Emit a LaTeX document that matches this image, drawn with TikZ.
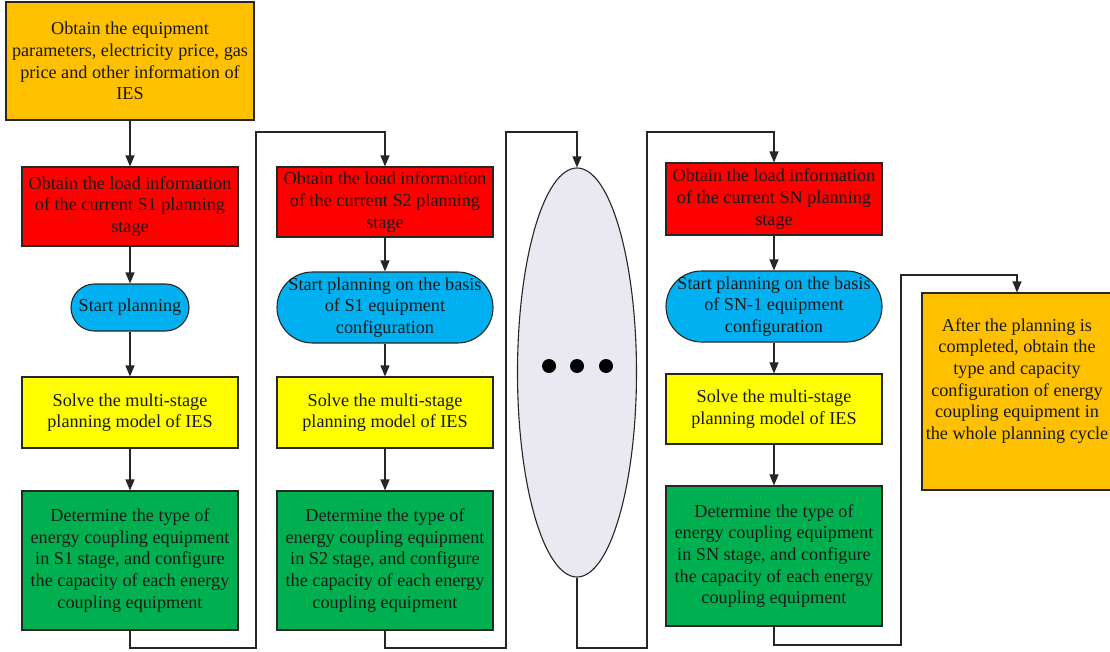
\documentclass[tikz,border=0pt]{standalone}
\usepackage{fontspec}
\setmainfont{Liberation Serif}
\usetikzlibrary{arrows.meta,shapes.geometric}
\definecolor{cgold}{HTML}{FFC000}
\definecolor{cred}{HTML}{FF0000}
\definecolor{cblue}{HTML}{00B0F0}
\definecolor{cyel}{HTML}{FFFF00}
\definecolor{cgreen}{HTML}{00B050}
\definecolor{clav}{HTML}{EAE8F0}
\definecolor{cline}{HTML}{262626}
\tikzset{
  box/.style={draw=cline, line width=1.1pt, inner sep=0pt, align=center,
    font=\fontsize{18.2}{21.7}\selectfont, text=black!90},
  goldbox/.style={box, fill=cgold},
  redbox/.style={box, fill=cred},
  bluebox/.style={box, fill=cblue},
  yelbox/.style={box, fill=cyel},
  greenbox/.style={box, fill=cgreen},
  arr/.style={draw=cline, line width=1.2pt, -{Triangle[width=9pt,length=11pt]}},
}
\begin{document}
\begin{tikzpicture}[x=1pt,y=-1pt]
\useasboundingbox (0,0) rectangle (1110,652);
% column 1
\node[goldbox, minimum width=248, minimum height=118] (top) at (130,61)
  {Obtain the equipment\\parameters, electricity price, gas\\price and other information of\\IES};
\node[redbox, minimum width=216, minimum height=79] (r1) at (130,206.5)
  {Obtain the load information\\of the current S1 planning\\stage};
\node[bluebox, minimum width=118, minimum height=47, rounded corners=23.5] (p1) at (130,307.5)
  {Start planning};
\node[yelbox, minimum width=216, minimum height=71] (y1) at (130,412.5)
  {Solve the multi-stage\\planning model of IES};
\node[greenbox, minimum width=216, minimum height=139] (g1) at (130,560.5)
  {Determine the type of\\energy coupling equipment\\in S1 stage, and configure\\the capacity of each energy\\coupling equipment};
% column 2
\node[redbox, minimum width=216, minimum height=70] (r2) at (385,202)
  {Obtain the load information\\of the current S2 planning\\stage};
\node[bluebox, minimum width=216, minimum height=71, rounded corners=35.5] (p2) at (385,307.5)
  {Start planning on the basis\\of S1 equipment\\configuration};
\node[yelbox, minimum width=216, minimum height=71] (y2) at (385,412.5)
  {Solve the multi-stage\\planning model of IES};
\node[greenbox, minimum width=216, minimum height=139] (g2) at (385,560.5)
  {Determine the type of\\energy coupling equipment\\in S2 stage, and configure\\the capacity of each energy\\coupling equipment};
% ellipse
\node[draw=cline, line width=1.1pt, fill=clav, ellipse, inner sep=0pt,
  minimum width=119, minimum height=409] (el) at (577,372.5) {};
\fill[black] (549,366) circle (7) (577,366) circle (7) (606,366) circle (7);
% column 3
\node[redbox, minimum width=216, minimum height=72] (r3) at (774,199)
  {Obtain the load information\\of the current SN planning\\stage};
\node[bluebox, minimum width=216, minimum height=71, rounded corners=35.5] (p3) at (774,306.5)
  {Start planning on the basis\\of SN-1 equipment\\configuration};
\node[yelbox, minimum width=216, minimum height=70] (y3) at (774,409)
  {Solve the multi-stage\\planning model of IES};
\node[greenbox, minimum width=216, minimum height=140] (g3) at (774,556)
  {Determine the type of\\energy coupling equipment\\in SN stage, and configure\\the capacity of each energy\\coupling equipment};
% final
\node[goldbox, minimum width=190, minimum height=197] (fin) at (1017,391.5) {};
\node[box, draw=none, fill=none] (fintext) at (1017,381)
  {After the planning is\\completed, obtain the\\type and capacity\\configuration of energy\\coupling equipment in\\the whole planning cycle};
% connectors
\draw[arr] (top) -- (r1);
\draw[arr] (r1) -- (p1);
\draw[arr] (p1) -- (y1);
\draw[arr] (y1) -- (g1);
\draw[arr] (r2) -- (p2);
\draw[arr] (p2) -- (y2);
\draw[arr] (y2) -- (g2);
\draw[arr] (r3) -- (p3);
\draw[arr] (p3) -- (y3);
\draw[arr] (y3) -- (g3);
\coordinate (b1) at (256,648); \coordinate (t1) at (256,132);
\coordinate (b2) at (506,648); \coordinate (t2) at (506,132);
\coordinate (b3) at (647,648); \coordinate (t3) at (647,132);
\coordinate (b4) at (901,645); \coordinate (t4) at (901,275);
\draw[arr] (g1.south) |- (b1) -- (t1) -| (r2.north);
\draw[arr] (g2.south) |- (b2) -- (t2) -| (el.north);
\draw[arr] (el.south) |- (b3) -- (t3) -| (r3.north);
\draw[arr] (g3.south) |- (b4) -- (t4) -| (fin.north);
\end{tikzpicture}
\end{document}
